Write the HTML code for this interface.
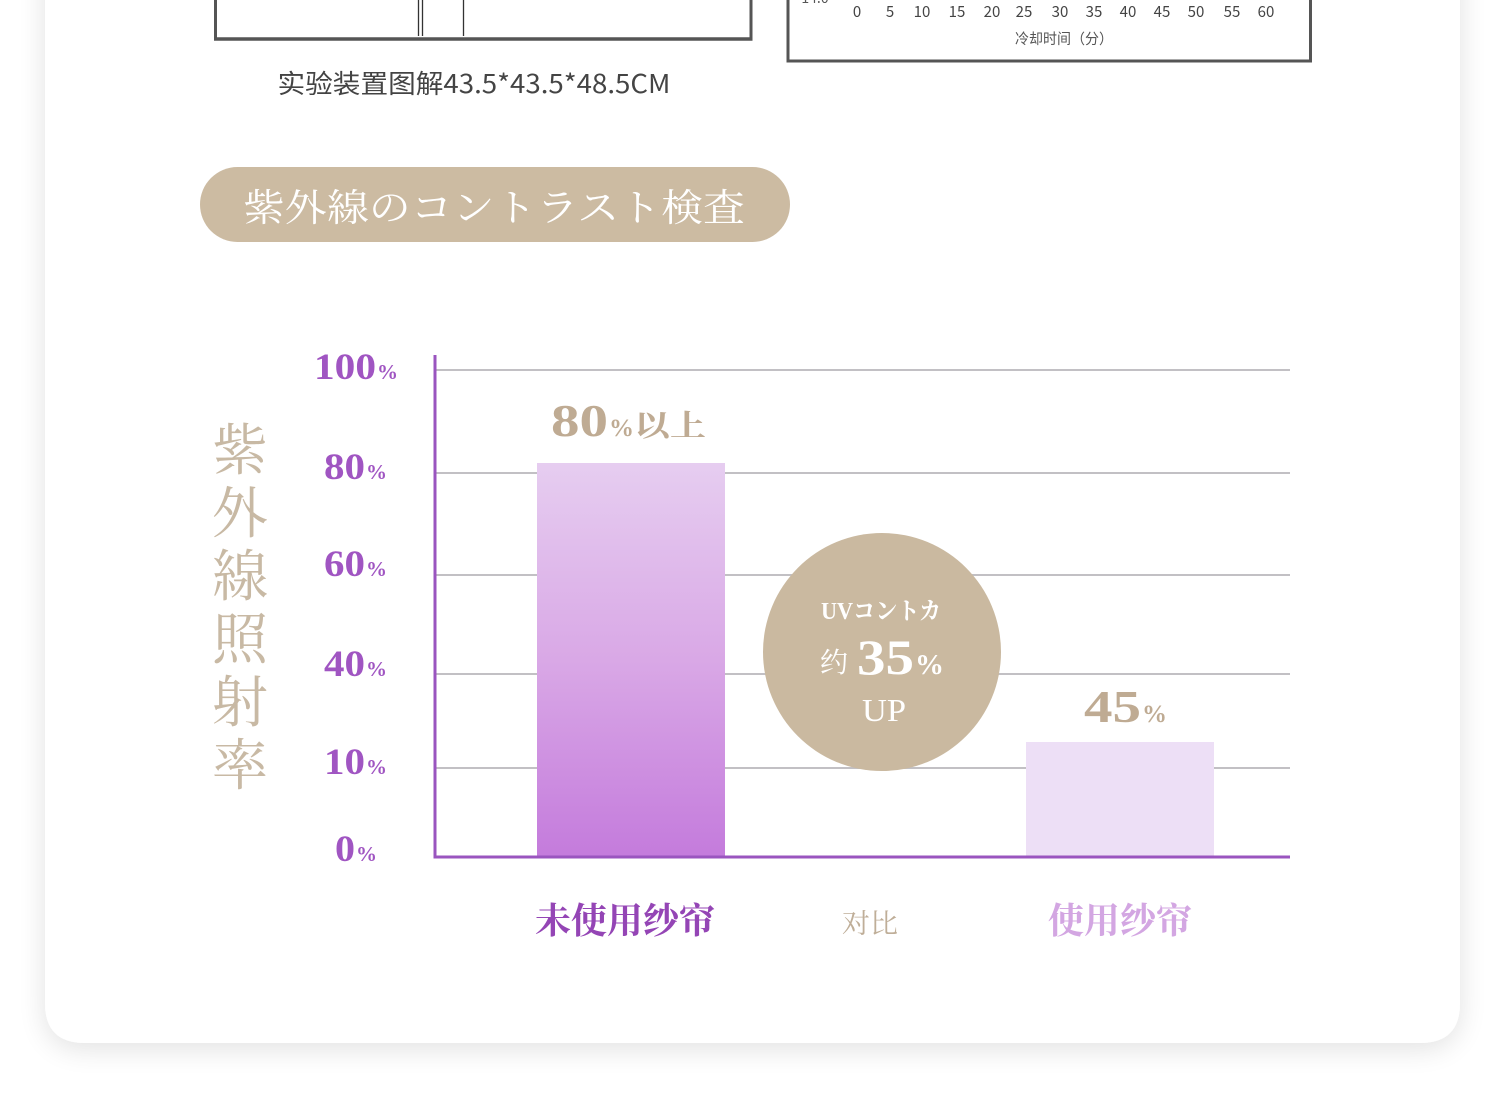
<!DOCTYPE html>
<html><head><meta charset="utf-8"><style>
html,body{margin:0;padding:0;background:#fff;width:1500px;height:1120px;overflow:hidden}
svg{display:block}
</style></head><body>
<svg width="1500" height="1120" viewBox="0 0 1500 1120" xmlns="http://www.w3.org/2000/svg">
<defs>
<linearGradient id="g1" x1="0" y1="0" x2="0" y2="1">
<stop offset="0" stop-color="#e6cdf0"/>
<stop offset="0.5" stop-color="#d9a8e6"/>
<stop offset="1" stop-color="#c47bdc"/>
</linearGradient>
<filter id="sh" x="-10%" y="-10%" width="120%" height="120%">
<feGaussianBlur in="SourceAlpha" stdDeviation="14"/>
<feOffset dx="0" dy="6" result="b"/>
<feComponentTransfer><feFuncA type="linear" slope="0.12"/></feComponentTransfer>
<feMerge><feMergeNode/><feMergeNode in="SourceGraphic"/></feMerge>
</filter>
</defs>
<rect x="0" y="0" width="1500" height="1120" fill="#ffffff"/>
<!-- card -->
<path d="M45 -60 H1460 V1003 Q1460 1043 1420 1043 H85 Q45 1043 45 1003 Z" fill="#fff" filter="url(#sh)"/>

<!-- top left box remnant -->
<line x1="215.5" y1="0" x2="215.5" y2="40" stroke="#555" stroke-width="3"/>
<line x1="751" y1="0" x2="751" y2="40" stroke="#555" stroke-width="3"/>
<line x1="214" y1="39" x2="752.5" y2="39" stroke="#555" stroke-width="3.5"/>
<line x1="418.5" y1="0" x2="418.5" y2="36" stroke="#333" stroke-width="1.3"/>
<line x1="422.5" y1="0" x2="422.5" y2="36" stroke="#333" stroke-width="1.3"/>
<line x1="463.5" y1="0" x2="463.5" y2="36" stroke="#333" stroke-width="1.3"/>
<text x="474" y="93" text-anchor="middle" font-family="'Noto Sans CJK SC','Liberation Sans',sans-serif" font-size="26" fill="#444" textLength="393" lengthAdjust="spacingAndGlyphs">实验装置图解43.5*43.5*48.5CM</text>

<!-- top right box remnant -->
<line x1="788" y1="0" x2="788" y2="62" stroke="#555" stroke-width="3"/>
<line x1="1310.5" y1="0" x2="1310.5" y2="62" stroke="#555" stroke-width="3"/>
<line x1="786.5" y1="61" x2="1312" y2="61" stroke="#555" stroke-width="3"/>
<text x="815" y="3" text-anchor="middle" font-family="'Noto Sans CJK SC',sans-serif" font-size="14" fill="#555">14.0</text>
<g font-family="'Noto Sans CJK SC','Liberation Sans',sans-serif" font-size="15" fill="#444" text-anchor="middle">
<text x="857" y="17">0</text><text x="890" y="17">5</text><text x="922" y="17">10</text><text x="957" y="17">15</text><text x="992" y="17">20</text><text x="1024" y="17">25</text><text x="1060" y="17">30</text><text x="1094" y="17">35</text><text x="1128" y="17">40</text><text x="1162" y="17">45</text><text x="1196" y="17">50</text><text x="1232" y="17">55</text><text x="1266" y="17">60</text>
</g>
<text x="1064" y="44" text-anchor="middle" font-family="'Noto Sans CJK SC',sans-serif" font-size="14.5" fill="#555" textLength="98" lengthAdjust="spacingAndGlyphs">冷却时间（分）</text>

<!-- pill -->
<rect x="200" y="167" width="590" height="75" rx="37.5" fill="#ccbba2"/>
<text x="494" y="221" text-anchor="middle" font-family="'Liberation Serif','Noto Serif CJK JP',serif" font-size="38" fill="#fff" textLength="502" lengthAdjust="spacingAndGlyphs">紫外線のコントラスト検査</text>

<!-- vertical label -->
<g font-family="'Liberation Serif','Noto Serif CJK JP',serif" font-size="56" fill="#c8b9a4" text-anchor="middle">
<text x="240" y="470">紫</text>
<text x="240" y="533">外</text>
<text x="240" y="596">線</text>
<text x="240" y="659">照</text>
<text x="240" y="722">射</text>
<text x="240" y="785">率</text>
</g>

<!-- gridlines -->
<g stroke="#c2c0c4" stroke-width="2">
<line x1="436" y1="370" x2="1290" y2="370"/>
<line x1="436" y1="473" x2="1290" y2="473"/>
<line x1="436" y1="575" x2="1290" y2="575"/>
<line x1="436" y1="674" x2="1290" y2="674"/>
<line x1="436" y1="768" x2="1290" y2="768"/>
</g>

<!-- y labels -->
<g font-family="'Liberation Serif',serif" font-weight="bold" fill="#a055c2">
<text x="314" y="379" font-size="37" textLength="62" lengthAdjust="spacingAndGlyphs">100</text><text x="377" y="379" font-size="21">%</text>
<text x="324" y="479" font-size="37" textLength="41" lengthAdjust="spacingAndGlyphs">80</text><text x="366" y="479" font-size="21">%</text>
<text x="324" y="576" font-size="37" textLength="41" lengthAdjust="spacingAndGlyphs">60</text><text x="366" y="576" font-size="21">%</text>
<text x="324" y="676" font-size="37" textLength="41" lengthAdjust="spacingAndGlyphs">40</text><text x="366" y="676" font-size="21">%</text>
<text x="324" y="774" font-size="37" textLength="41" lengthAdjust="spacingAndGlyphs">10</text><text x="366" y="774" font-size="21">%</text>
<text x="335" y="861" font-size="37" textLength="20" lengthAdjust="spacingAndGlyphs">0</text><text x="356" y="861" font-size="21">%</text>
</g>

<!-- bars -->
<rect x="537" y="463" width="188" height="394" fill="url(#g1)"/>
<rect x="1026" y="742" width="188" height="115" fill="#eddff6"/>

<!-- axes -->
<line x1="435" y1="355" x2="435" y2="858" stroke="#9a55bf" stroke-width="3"/>
<line x1="433.5" y1="857" x2="1290" y2="857" stroke="#9a55bf" stroke-width="3"/>

<!-- bar labels -->
<g font-family="'Liberation Serif','Noto Serif CJK SC',serif" font-weight="bold" fill="#bfab93">
<text x="551" y="436" font-size="46" textLength="57" lengthAdjust="spacingAndGlyphs">80</text>
<text x="609" y="436" font-size="25">%</text>
<text x="634" y="436" font-size="30" textLength="72" lengthAdjust="spacingAndGlyphs">以上</text>
<text x="1084" y="722" font-size="46" textLength="57" lengthAdjust="spacingAndGlyphs">45</text>
<text x="1142" y="722" font-size="25">%</text>
</g>

<!-- circle -->
<circle cx="882" cy="652" r="119" fill="#cab9a0"/>
<g fill="#fff" font-family="'Liberation Serif','Noto Serif CJK JP',serif">
<text x="881" y="619" text-anchor="middle" font-size="24" font-weight="bold" textLength="120" lengthAdjust="spacingAndGlyphs">UVコントカ</text>
<text x="820" y="672" font-size="28" font-family="'Liberation Serif','Noto Serif CJK SC',serif">约</text>
<text x="857" y="674" font-size="50" font-weight="bold" textLength="57" lengthAdjust="spacingAndGlyphs">35</text>
<text x="915" y="674" font-size="29" font-weight="bold">%</text>
<text x="884" y="721" text-anchor="middle" font-size="32" textLength="44" lengthAdjust="spacingAndGlyphs">UP</text>
</g>

<!-- x labels -->
<text x="625" y="933" text-anchor="middle" font-family="'Liberation Serif','Noto Serif CJK SC',serif" font-weight="bold" font-size="36" fill="#9445b5" textLength="180" lengthAdjust="spacingAndGlyphs">未使用纱帘</text>
<text x="870" y="933" text-anchor="middle" font-family="'Liberation Serif','Noto Serif CJK SC',serif" font-size="27" fill="#bfae98" textLength="56" lengthAdjust="spacingAndGlyphs">对比</text>
<text x="1120" y="933" text-anchor="middle" font-family="'Liberation Serif','Noto Serif CJK SC',serif" font-weight="bold" font-size="36" fill="#d3a6e2" textLength="144" lengthAdjust="spacingAndGlyphs">使用纱帘</text>
</svg>
</body></html>
